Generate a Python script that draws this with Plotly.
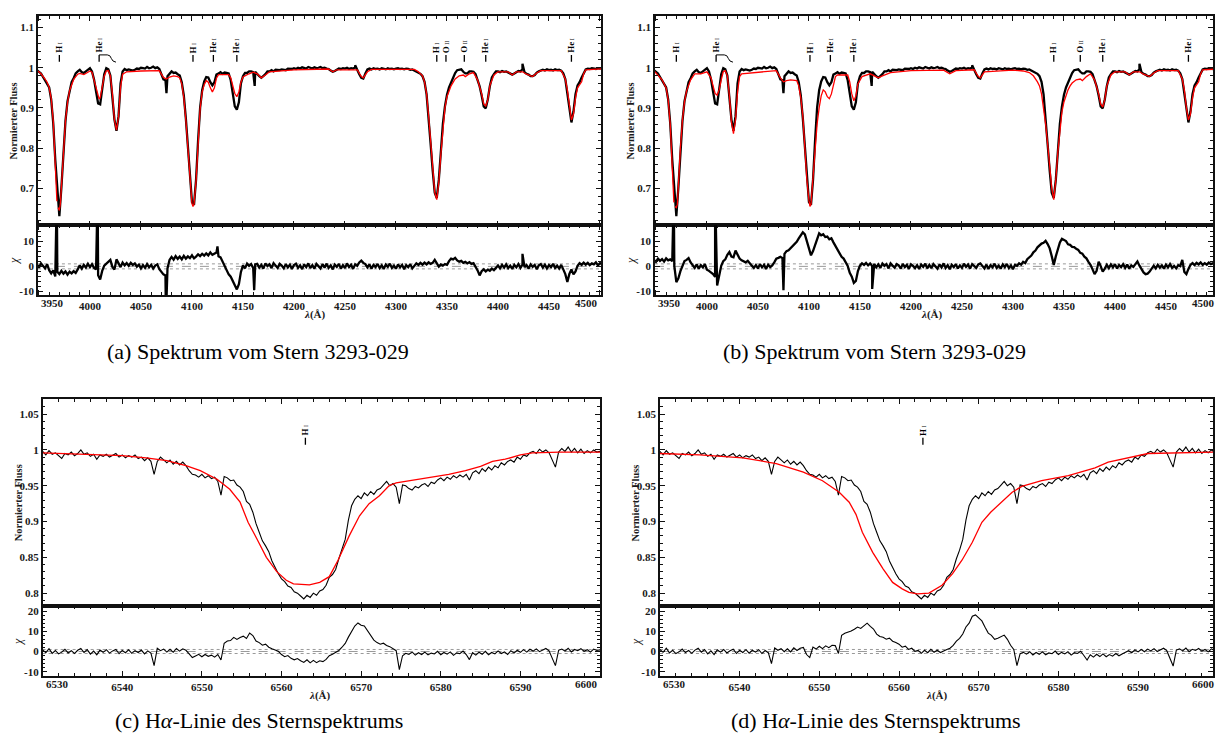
import numpy as np
import plotly.graph_objects as go

# ---------------------------------------------------------------
# Blue spectrum of star 3293-029, sampled every 2 A from 3948 A
# ---------------------------------------------------------------
BLUE_START, BLUE_STEP = 3948.0, 2.0
blue_flux = [
    0.994, 0.989, 0.986, 0.977, 0.969, 0.961, 0.951, 0.921, 0.862, 0.771,
    0.692, 0.631, 0.702, 0.801, 0.868, 0.917, 0.943, 0.964, 0.974, 0.986,
    0.991, 0.995, 0.989, 0.987, 0.991, 0.994, 0.999, 0.991, 0.971, 0.941,
    0.911, 0.909, 0.951, 0.984, 0.999, 0.996, 0.981, 0.934, 0.871, 0.843,
    0.879, 0.961, 0.991, 0.997, 0.994, 0.996, 0.995, 0.993, 0.995, 0.998,
    0.997, 1.000, 0.999, 0.998, 1.002, 0.999, 1.000, 1.003, 0.999, 1.001,
    0.997, 0.986, 0.971, 0.969, 0.979, 0.984, 0.991, 0.987, 0.988, 0.984,
    0.981, 0.964, 0.931, 0.874, 0.801, 0.721, 0.666, 0.659, 0.721, 0.819,
    0.901, 0.944, 0.966, 0.977, 0.976, 0.964, 0.956, 0.964, 0.983, 0.986,
    0.989, 0.985, 0.988, 0.987, 0.986, 0.969, 0.941, 0.904, 0.896, 0.914,
    0.961, 0.979, 0.987, 0.987, 0.991, 0.991, 0.989, 0.990, 0.984, 0.979,
    0.975, 0.979, 0.984, 0.991, 0.991, 0.994, 0.991, 0.995, 0.994, 0.994,
    0.996, 0.995, 0.994, 0.998, 0.997, 0.997, 0.999, 0.997, 1.000, 0.998,
    1.001, 0.999, 0.998, 1.002, 1.000, 0.998, 1.001, 0.999, 1.000, 1.002,
    0.999, 1.000, 0.998, 0.997, 0.993, 0.990, 0.992, 0.995, 0.998, 0.997,
    0.999, 0.998, 1.000, 0.997, 0.999, 0.998, 1.001, 0.994, 0.984, 0.975,
    0.973, 0.986, 0.996, 0.998, 0.996, 0.999, 0.997, 0.998, 0.996, 0.999,
    0.998, 0.996, 0.999, 0.997, 0.998, 0.996, 0.998, 0.999, 0.997, 0.998,
    0.996, 0.998, 0.997, 0.995, 0.996, 0.993, 0.991, 0.989, 0.985, 0.979,
    0.965, 0.934, 0.879, 0.809, 0.744, 0.689, 0.676, 0.721, 0.791, 0.861,
    0.904, 0.933, 0.951, 0.964, 0.979, 0.987, 0.994, 0.995, 0.996, 0.990,
    0.986, 0.986, 0.991, 0.991, 0.990, 0.984, 0.970, 0.954, 0.931, 0.904,
    0.899, 0.921, 0.954, 0.976, 0.984, 0.991, 0.991, 0.989, 0.992, 0.990,
    0.991, 0.988, 0.986, 0.983, 0.986, 0.989, 0.992, 0.991, 0.996, 0.989,
    0.985, 0.983, 0.979, 0.979, 0.982, 0.988, 0.991, 0.993, 0.995, 0.993,
    0.996, 0.994, 0.995, 0.993, 0.996, 0.994, 0.995, 0.993, 0.986, 0.972,
    0.939, 0.896, 0.864, 0.891, 0.934, 0.956, 0.964, 0.976, 0.987, 0.996,
    0.998, 0.997, 0.999, 0.998, 0.997, 0.999, 0.998, 0.999, 0.998,
]
# narrow single-pixel features
blue_spike_wl = [4075.0, 4161.5, 4260.0, 4424.0]
blue_spike_flux = [0.937, 0.955, 1.006, 1.010]

# model spectra (nan = no model in the Ca II H core)
model_a_wl = [
    3949, 3952, 3956, 3958, 3960, 3962, 3964, 3966, 3967, 3967.6, 3968.2, 3968.8,
    3970, 3971, 3972, 3974, 3976, 3978, 3980, 3984, 3988, 3990, 3994, 3998,
    4000, 4002, 4004, 4006, 4008, 4009, 4010, 4012, 4014, 4016, 4018, 4020,
    4022, 4024, 4026, 4028, 4030, 4032, 4036, 4050, 4060, 4068, 4072, 4075,
    4078, 4082, 4086, 4088, 4090, 4092, 4094, 4096, 4098, 4100, 4101, 4102,
    4104, 4106, 4108, 4110, 4112, 4114, 4116, 4118, 4120, 4122, 4124, 4126,
    4136, 4138, 4140, 4142, 4144, 4146, 4148, 4150, 4156, 4160, 4164, 4168,
    4172, 4176, 4200, 4234, 4238, 4242, 4262, 4266, 4268, 4272, 4276, 4318,
    4322, 4326, 4328, 4330, 4332, 4334, 4336, 4338, 4340, 4342, 4344, 4346,
    4348, 4350, 4354, 4358, 4362, 4366, 4368, 4372, 4376, 4380, 4384, 4386,
    4388, 4390, 4392, 4396, 4400, 4410, 4414, 4418, 4424, 4428, 4434, 4438,
    4442, 4462, 4466, 4468, 4470, 4472, 4474, 4476, 4478, 4482, 4484, 4486,
    4501,
]
model_a_flux = [
    0.992, 0.985, 0.972, 0.964, 0.951, 0.924, 0.868, 0.768, 0.700, 0.668, np.nan, 0.652,
    0.645, 0.662, 0.700, 0.798, 0.868, 0.913, 0.943, 0.971, 0.984, 0.986, 0.983, 0.989,
    0.992, 0.989, 0.970, 0.946, 0.926, 0.922, 0.925, 0.950, 0.979, 0.992, 0.993, 0.980,
    0.935, 0.870, 0.845, 0.878, 0.952, 0.984, 0.990, 0.992, 0.993, 0.993, 0.976, 0.972,
    0.977, 0.980, 0.978, 0.975, 0.960, 0.926, 0.870, 0.792, 0.712, 0.662, 0.655, 0.660,
    0.718, 0.818, 0.898, 0.940, 0.958, 0.968, 0.964, 0.950, 0.940, 0.950, 0.974, 0.983,
    0.983, 0.975, 0.956, 0.936, 0.928, 0.940, 0.964, 0.977, 0.985, 0.989, 0.985, 0.975,
    0.982, 0.990, 0.995, 0.997, 0.990, 0.995, 0.995, 0.978, 0.975, 0.990, 0.996, 0.996,
    0.990, 0.980, 0.965, 0.935, 0.880, 0.810, 0.745, 0.690, 0.672, 0.715, 0.785, 0.855,
    0.900, 0.928, 0.955, 0.972, 0.980, 0.982, 0.978, 0.985, 0.988, 0.970, 0.935, 0.910,
    0.905, 0.920, 0.955, 0.982, 0.990, 0.990, 0.982, 0.990, 0.990, 0.984, 0.978, 0.987,
    0.993, 0.993, 0.972, 0.945, 0.900, 0.870, 0.885, 0.925, 0.950, 0.965, 0.985, 0.995,
    0.997,
]
model_b_wl = [
    3949, 3956, 3960, 3962, 3964, 3966, 3967, 3967.6, 3968.2, 3968.8, 3970, 3971,
    3972, 3974, 3976, 3978, 3980, 3984, 3988, 3994, 4000, 4004, 4006, 4008,
    4010, 4012, 4014, 4016, 4018, 4020, 4022, 4024, 4026, 4028, 4030, 4032,
    4034, 4050, 4060, 4068, 4072, 4075, 4078, 4082, 4088, 4090, 4092, 4094,
    4096, 4098, 4100, 4101, 4102, 4104, 4106, 4108, 4110, 4112, 4114, 4116,
    4118, 4120, 4122, 4124, 4126, 4128, 4138, 4140, 4142, 4144, 4146, 4148,
    4152, 4160, 4168, 4172, 4180, 4200, 4232, 4238, 4244, 4262, 4266, 4268,
    4272, 4300, 4310, 4316, 4320, 4324, 4326, 4328, 4330, 4332, 4334, 4336,
    4338, 4340, 4342, 4344, 4346, 4348, 4350, 4352, 4354, 4356, 4358, 4362,
    4366, 4368, 4372, 4376, 4380, 4384, 4386, 4388, 4390, 4392, 4396, 4400,
    4410, 4414, 4418, 4424, 4428, 4434, 4438, 4442, 4462, 4466, 4468, 4470,
    4472, 4474, 4476, 4478, 4482, 4484, 4486, 4501,
]
model_b_flux = [
    0.990, 0.970, 0.950, 0.920, 0.860, 0.760, 0.690, 0.665, np.nan, 0.655, 0.652, 0.660,
    0.710, 0.800, 0.870, 0.915, 0.942, 0.970, 0.985, 0.985, 0.990, 0.975, 0.955, 0.936,
    0.932, 0.945, 0.970, 0.990, 0.993, 0.980, 0.930, 0.865, 0.836, 0.870, 0.940, 0.978,
    0.985, 0.988, 0.990, 0.993, 0.975, 0.965, 0.968, 0.970, 0.968, 0.955, 0.925, 0.880,
    0.800, 0.720, 0.670, 0.655, 0.660, 0.735, 0.810, 0.860, 0.900, 0.930, 0.945, 0.940,
    0.928, 0.923, 0.935, 0.960, 0.978, 0.982, 0.982, 0.965, 0.935, 0.918, 0.930, 0.960,
    0.978, 0.985, 0.975, 0.980, 0.988, 0.993, 0.994, 0.985, 0.993, 0.995, 0.978, 0.975,
    0.990, 0.994, 0.992, 0.988, 0.980, 0.965, 0.955, 0.935, 0.900, 0.860, 0.810, 0.750,
    0.700, 0.672, 0.720, 0.790, 0.850, 0.890, 0.915, 0.932, 0.945, 0.955, 0.962, 0.970,
    0.972, 0.968, 0.978, 0.985, 0.970, 0.935, 0.910, 0.902, 0.920, 0.955, 0.982, 0.990,
    0.990, 0.982, 0.990, 0.990, 0.984, 0.978, 0.987, 0.993, 0.993, 0.972, 0.945, 0.900,
    0.870, 0.885, 0.925, 0.950, 0.965, 0.985, 0.995, 0.997,
]

# normalised residuals chi on the 2 A grid
chi_a = [
    0.8, -0.5, 1.2, 0.3, -0.8, 0.9, -1.5, -2.8, -1.6, -4.0,
    -2.2, -3.1, -1.8, -2.9, -2.0, -3.3, -2.1, -2.8, -1.9, -2.6,
    -1.2, 0.4, -0.9, 0.6, -0.5, 1.0, -0.3, 0.9, -0.6, -1.2,
    -3.5, -5.2, -1.8, 0.3, 1.2, 1.8, 2.6, -0.2, -1.3, 2.8,
    0.9, -0.3, 1.5, 0.4, 1.3, 0.2, 1.4, 0.6, 1.2, -0.1,
    0.7, -0.8, 0.5, -0.6, 0.9, -0.4, 0.6, -0.9, 0.3, 0.8,
    -1.1, -2.4, -3.2, -3.6, -0.8, 2.6, 3.8, 2.7, 4.1, 3.0,
    3.9, 2.8, 4.2, 3.1, 4.0, 3.3, 4.4, 3.2, 3.9, 4.8,
    4.1, 5.0, 4.3, 5.2, 4.4, 5.6, 4.6, 5.1, 5.5, 4.0,
    3.6, 2.0, 0.2, -1.8, -3.2, -4.1, -5.6, -7.6, -9.2, -7.1,
    -2.2, 0.4, -0.8, 1.1, 0.2, 0.9, -0.6, 0.8, 1.0, -0.5,
    0.6, -0.9, 1.2, 0.1, 0.8, -0.7, 1.3, 0.2, -0.6, 1.0,
    0.3, -0.8, 0.9, -0.4, 0.7, -1.0, 0.5, 1.1, -0.6, 0.4,
    -1.1, 0.8, -0.3, 1.2, -0.7, 0.5, -0.9, 1.0, 0.1, -0.8,
    0.9, -0.5, 1.1, -0.6, 0.4, -1.2, 0.7, -0.2, 1.0, -0.9,
    0.5, -0.7, 1.2, -0.3, 0.6, -1.0, 0.8, 0.2, 1.6, 2.3,
    1.4, 0.9, -0.4, 0.8, -0.9, 0.6, -0.3, 1.0, -0.7, 0.4,
    -1.0, 0.7, -0.2, 1.1, -0.6, 0.3, -0.9, 0.8, -0.4, 0.6,
    -1.1, 0.5, -0.3, 0.9, -0.8, 0.4, 1.2, 0.6, 1.4, 0.7,
    1.5, 0.8, 1.6, 1.0, 1.4, 2.6, 1.2, -0.1, 0.8, 0.3,
    0.9, 0.6, 2.1, 3.1, 2.8, 3.4, 2.4, 1.9, 2.2, 1.4,
    1.8, 1.2, 1.7, 1.0, 1.3, -0.1, -1.6, -3.6, -1.9, -1.2,
    -2.0, -1.3, -1.8, -0.9, -1.5, -0.6, 0.4, -0.8, 0.6, -0.5,
    0.8, -0.7, 0.3, -1.0, 0.6, -0.4, 0.9, -0.6, 0.7, -0.3,
    0.5, -0.9, 0.8, -0.2, 0.6, -1.1, 0.4, 0.9, -0.5, 0.7,
    -0.8, 0.5, -0.3, 1.0, -0.6, 0.3, -0.9, 0.6, -1.2, -3.1,
    -6.2, -3.0, -1.2, -3.2, -2.0, 0.2, 1.3, 0.6, 1.5, 0.7,
    1.4, 0.5, 1.2, 0.8, 1.6, 0.4, 1.3, 0.9, 1.1,
]
chi_a_spike_wl = [3967.5, 4007.5, 4074.5, 4125.0, 4161.0, 4424.0]
chi_a_spike = [30.0, 30.0, -20.0, 8.0, -9.5, 5.0]

chi_b = [
    2.6, 1.8, 3.1, 2.2, 2.9, 1.9, 3.2, 2.4, 2.8, 2.1,
    0.2, -6.3, -4.8, -1.9, 0.3, 2.1, 2.6, 3.3, 1.6, 0.4,
    -0.6, 0.8, -0.9, 0.5, -0.4, 0.9, -1.3, -1.8, -2.4, -3.1,
    -4.2, -7.6, -4.0, 0.2, 2.1, 2.8, 4.6, 5.7, 3.9, 3.6,
    6.3, 4.9, 3.1, 2.4, 2.1, 1.6, 2.2, 1.0, 0.3, -0.6,
    0.5, -0.8, 0.9, -0.4, 0.6, -1.0, 0.7, -0.3, 0.4, 1.6,
    3.1, 3.4, 3.8, 3.3, 5.0, 6.1, 6.4, 7.2, 7.9, 9.1,
    9.8, 11.2, 12.3, 13.6, 12.8, 10.1, 6.9, 4.4, 6.1, 8.2,
    11.1, 13.2, 12.4, 12.8, 11.7, 11.9, 10.8, 11.2, 9.6, 8.1,
    6.2, 5.3, 3.8, 3.1, 1.9, 0.2, -2.6, -4.1, -6.6, -5.8,
    -1.9, 0.3, 1.2, 0.6, 1.4, 0.4, 1.2, 0.1, 1.0, -0.4,
    0.8, -0.6, 1.1, 0.2, 0.9, -0.8, 1.2, 0.3, -0.5, 0.9,
    0.4, -0.9, 1.0, -0.3, 0.6, -1.0, 0.8, 0.2, -0.7, 0.5,
    -1.0, 0.7, -0.2, 1.1, -0.8, 0.6, -0.7, 0.9, 0.1, -0.9,
    0.8, -0.4, 1.2, -0.6, 0.5, -1.1, 0.6, -0.3, 0.9, -0.8,
    0.4, -0.6, 1.1, -0.2, 0.7, -0.9, 0.9, 0.1, -0.6, 0.8,
    1.2, 0.2, -0.8, 0.7, -1.0, 0.5, -0.4, 1.1, -0.6, 0.3,
    -0.9, 0.8, -0.3, 1.0, -0.7, 0.4, -1.1, 0.6, 0.2, 1.2,
    0.7, 1.8, 1.3, 2.9, 3.6, 4.3, 5.6, 6.3, 7.6, 8.4,
    9.1, 9.4, 10.2, 8.9, 7.2, 4.1, 0.6, 4.0, 7.1, 9.6,
    11.0, 10.4, 10.1, 8.8, 8.6, 7.8, 7.7, 7.0, 6.6, 5.4,
    5.1, 3.9, 3.2, 1.8, 0.6, -1.2, -3.1, -1.8, 1.9, 0.1,
    -2.1, -0.9, 0.6, -0.7, 0.8, -0.4, 0.9, -0.8, 0.5, -0.3,
    0.9, -0.6, 0.7, -0.9, 0.4, -0.2, 0.8, 2.0, 0.3, -1.1,
    -2.4, -3.1, -2.9, -2.1, -0.6, 0.3, -0.8, 0.6, -0.5, 0.4,
    -0.9, 0.7, -0.4, 0.9, -0.6, 0.2, -0.8, 0.5, 0.1, 2.6,
    -2.2, -3.1, -1.0, 0.6, 1.3, 0.5, 1.4, 0.8, 1.6, 0.6,
    1.3, 0.7, 1.5, 0.9, 1.2, 0.5, 1.4, 0.8, 1.1,
]
chi_b_spike_wl = [3967.5, 4008.0, 4075.0, 4162.0]
chi_b_spike = [30.0, 30.0, -9.5, -9.0]

# line identifications (wavelength, element, ionisation stage)
ids_a_wl = [3970, 4009, 4101, 4121, 4144, 4340, 4349, 4367, 4388, 4472]
ids_a_el = ["H", "He", "H", "He", "He", "H", "O", "O", "He", "He"]
ids_a_ion = ["I", "I", "I", "I", "I", "I", "II", "II", "I", "I"]
ids_b_wl = [3970, 4009, 4101, 4121, 4144, 4340, 4366, 4388, 4472]
ids_b_el = ["H", "He", "H", "He", "He", "H", "O", "He", "He"]
ids_b_ion = ["I", "I", "I", "I", "I", "I", "II", "I", "I"]

# ---------------------------------------------------------------
# H-alpha region, sampled every 0.4 A from 6530 A
# ---------------------------------------------------------------
RED_START, RED_STEP = 6530.0, 0.4
red_flux = [
    0.998, 0.993, 0.999, 0.994, 0.996, 0.992, 0.988, 0.995, 0.993, 0.997,
    0.992, 0.995, 1.000, 0.994, 0.996, 0.991, 0.994, 0.987, 0.993, 0.991,
    0.994, 0.990, 0.993, 0.995, 0.990, 0.993, 0.989, 0.992, 0.990, 0.993,
    0.988, 0.990, 0.985, 0.989, 0.984, 0.966, 0.984, 0.990, 0.986, 0.982,
    0.986, 0.980, 0.984, 0.979, 0.983, 0.978, 0.971, 0.966, 0.965, 0.962,
    0.966, 0.961, 0.964, 0.960, 0.962, 0.956, 0.937, 0.963, 0.961, 0.957,
    0.958, 0.951, 0.948, 0.942, 0.928, 0.924, 0.913, 0.897, 0.885, 0.873,
    0.866, 0.858, 0.845, 0.835, 0.827, 0.820, 0.816, 0.810, 0.808, 0.802,
    0.800, 0.796, 0.792, 0.797, 0.794, 0.800, 0.797, 0.803, 0.805, 0.811,
    0.822, 0.826, 0.833, 0.848, 0.860, 0.875, 0.902, 0.922, 0.931, 0.936,
    0.932, 0.940, 0.936, 0.942, 0.938, 0.944, 0.946, 0.951, 0.956, 0.950,
    0.953, 0.948, 0.925, 0.951, 0.950, 0.946, 0.944, 0.949, 0.947, 0.951,
    0.953, 0.949, 0.955, 0.953, 0.958, 0.961, 0.957, 0.962, 0.959, 0.964,
    0.961, 0.965, 0.962, 0.966, 0.958, 0.968, 0.971, 0.967, 0.974, 0.970,
    0.976, 0.972, 0.978, 0.975, 0.982, 0.979, 0.984, 0.986, 0.983, 0.990,
    0.987, 0.993, 0.991, 0.996, 0.998, 0.995, 1.001, 0.997, 1.000, 0.996,
    0.985, 0.976, 0.997, 1.002, 0.998, 1.004, 0.997, 1.002, 0.996, 1.001,
    0.995, 0.999, 0.996, 1.000, 0.997, 0.998,
]
model_c_wl = [
    6530, 6535, 6540, 6543, 6545.6, 6548, 6549.8, 6551.9, 6553.5, 6554.8,
    6555.8, 6556.9, 6558.1, 6559.4, 6560.6, 6561.5, 6562.3, 6563.5, 6564.8, 6566,
    6567.1, 6568.5, 6569.8, 6571, 6572.3, 6573.5, 6574.4, 6576, 6579, 6581,
    6583.1, 6585, 6586.5, 6588.1, 6590, 6591.5, 6595, 6600,
]
model_c_flux = [
    0.996, 0.994, 0.992, 0.989, 0.985, 0.978, 0.971, 0.959, 0.945, 0.927,
    0.899, 0.876, 0.850, 0.830, 0.818, 0.813, 0.812, 0.8115, 0.815, 0.823,
    0.846, 0.880, 0.908, 0.925, 0.936, 0.950, 0.954, 0.957, 0.962, 0.966,
    0.971, 0.977, 0.984, 0.987, 0.993, 0.996, 0.997, 0.997,
]
model_d_wl = [
    6530, 6535, 6540.4, 6544.6, 6548, 6550.4, 6552.5, 6553.75, 6554.6, 6555.4,
    6556.7, 6558, 6559.2, 6560.4, 6561.25, 6562.3, 6563.75, 6565.4, 6566.7, 6567.9,
    6569.2, 6570.4, 6571.5, 6572.9, 6574.2, 6575.4, 6577.9, 6581.25, 6584.6, 6586.25,
    6588.75, 6591.25, 6600,
]
model_d_flux = [
    0.995, 0.993, 0.989, 0.981, 0.969, 0.957, 0.941, 0.927, 0.910, 0.885,
    0.857, 0.834, 0.815, 0.806, 0.801, 0.799, 0.800, 0.811, 0.827, 0.846,
    0.871, 0.899, 0.913, 0.927, 0.941, 0.949, 0.957, 0.964, 0.975, 0.983,
    0.989, 0.995, 0.997,
]
chi_c = [
    0.8, -0.6, 1.4, -0.9, 0.5, -1.2, -0.3, 1.1, -0.7, 0.4,
    -1.0, 0.6, 1.5, -0.5, 0.9, -1.3, 0.2, -1.6, 0.7, -0.4,
    0.9, -0.8, 0.3, 1.0, -1.1, 0.5, -0.6, 0.8, -0.9, 0.4,
    -0.5, 0.7, -1.2, 0.3, -0.8, -7.0, 1.6, 0.4, 1.2, -0.3,
    1.1, -0.4, 1.5, 0.2, 1.3, 0.6, -1.2, -3.0, -2.2, -1.4,
    -2.6, -1.5, -2.4, -1.8, -2.8, -1.5, -4.2, 4.1, 5.2, 5.4,
    7.0, 6.0, 6.9, 7.6, 6.4, 9.1, 7.9, 5.2, 4.4, 3.1,
    3.6, 2.1, 1.4, 0.6, 0.1, -1.5, -2.6, -2.0, -3.4, -4.1,
    -3.5, -4.6, -5.4, -4.1, -5.6, -4.4, -5.5, -4.6, -5.0, -3.9,
    -2.1, -1.4, -0.6, 0.5, 2.1, 4.0, 7.1, 10.2, 12.6, 14.1,
    13.0, 12.6, 10.1, 8.0, 5.6, 4.4, 3.6, 4.1, 3.0, 2.4,
    1.6, 0.4, -9.0, -2.1, -0.9, -1.4, -0.2, -1.8, -0.6, -1.5,
    -0.3, -1.7, -0.8, -1.2, 0.1, -1.6, -0.5, -1.3, -0.2, -1.9,
    -0.7, -1.1, 0.2, -1.5, -4.0, -0.6, -1.8, -0.4, -1.4, 0.1,
    -1.6, -0.5, -1.2, 0.3, -1.0, -0.2, -1.5, 0.4, -0.8, 0.6,
    -0.4, 0.9, -0.3, 1.1, 0.2, 1.3, -0.1, 0.8, 1.5, 0.3,
    -3.0, -7.0, 0.6, 1.2, 0.2, 1.6, -0.2, 1.0, 0.4, 1.4,
    0.1, 0.9, -0.3, 1.2, 0.5, 0.8,
]
chi_d = [
    1.0, -0.4, 1.6, -0.7, 0.6, -1.0, -0.2, 1.2, -0.5, 0.5,
    -0.9, 0.7, 1.6, -0.3, 1.0, -1.2, 0.3, -1.5, 0.8, -0.3,
    1.0, -0.7, 0.4, 1.1, -1.0, 0.6, -0.5, 0.9, -0.8, 0.6,
    -0.3, 0.9, -1.0, 0.5, -0.6, -6.0, 1.8, 0.6, 1.4, -0.1,
    1.3, -0.2, 1.8, 0.5, 1.6, 2.0, -1.5, -3.0, 2.2, 1.2,
    2.6, 1.4, 2.8, 1.9, 3.1, 2.9, -1.0, 8.0, 9.0, 9.4,
    10.1, 11.0, 12.1, 11.4, 12.6, 14.0, 12.4, 11.1, 8.6, 7.4,
    7.0, 6.1, 6.6, 5.1, 4.4, 3.6, 2.1, 2.6, 1.0, 1.6,
    0.1, 0.6, -0.9, 0.6, -0.6, 1.1, -0.4, 0.6, -0.5, 0.4,
    1.0, 1.6, 3.0, 5.1, 6.5, 8.6, 12.1, 14.0, 17.4, 18.1,
    16.6, 15.1, 12.0, 9.1, 8.0, 6.0, 6.6, 7.5, 8.1, 6.0,
    3.1, 1.0, -7.0, -1.1, -0.4, -1.3, -0.1, -1.7, -0.5, -1.4,
    -0.2, -1.6, -0.7, -1.1, 0.2, -1.5, -0.4, -1.2, -0.1, -1.8,
    -0.6, -1.0, 0.1, -2.0, -4.2, -1.6, -2.8, -1.4, -2.5, -1.2,
    -2.6, -1.5, -2.3, -1.0, -2.1, -1.2, -0.4, 0.4, -0.6, 0.8,
    -0.2, 1.0, -0.1, 1.2, 0.3, 1.4, 0.0, 0.9, 1.6, 0.4,
    -3.0, -7.2, 0.7, 1.3, 0.3, 1.7, -0.1, 1.1, 0.5, 1.5,
    0.2, 1.0, -0.2, 1.3, 0.6, 0.9,
]
ids_red_wl = [6563]
ids_red_el = ["H"]
ids_red_ion = ["I"]

captions = [
    "(a) Spektrum vom Stern 3293-029",
    "(b) Spektrum vom Stern 3293-029",
    "(c) H<i>α</i>-Linie des Sternspektrums",
    "(d) H<i>α</i>-Linie des Sternspektrums",
]

# ---------------------------------------------------------------
W, H = 1215, 751
SERIF = "Liberation Serif, Tinos, Times New Roman, Times, DejaVu Serif, serif"
INK = "#1a1a1a"


def px(x):
    return x / W


def py(y):
    return 1 - y / H


def grid(start, step, values):
    return start + step * np.arange(len(values))


def merged(wl, vals, extra_wl, extra_vals):
    x = np.concatenate([np.asarray(wl, float), np.asarray(extra_wl, float)])
    y = np.concatenate([np.asarray(vals, float), np.asarray(extra_vals, float)])
    order = np.argsort(x, kind="stable")
    return x[order], y[order]


blue_wl = grid(BLUE_START, BLUE_STEP, blue_flux)
red_wl = grid(RED_START, RED_STEP, red_flux)
obs_blue_x, obs_blue_y = merged(blue_wl, blue_flux, blue_spike_wl, blue_spike_flux)
chi_a_x, chi_a_y = merged(grid(BLUE_START, BLUE_STEP, chi_a), chi_a, chi_a_spike_wl, chi_a_spike)
chi_b_x, chi_b_y = merged(grid(BLUE_START, BLUE_STEP, chi_b), chi_b, chi_b_spike_wl, chi_b_spike)

# panel geometry in pixels: frame left/right, main top/bottom, residual bottom
panels = [
    dict(x0=38, x1=602, top=14, mid=224.5, bot=294.5, xr=[3949, 4501], kind="blue",
         obs=(obs_blue_x, obs_blue_y), model=(model_a_wl, model_a_flux), chi=(chi_a_x, chi_a_y),
         ids=(ids_a_wl, ids_a_el, ids_a_ion), cap=captions[0], capx=258, capy=351),
    dict(x0=656, x1=1215, top=14, mid=224.5, bot=294.5, xr=[3949, 4496.1], kind="blue",
         obs=(obs_blue_x, obs_blue_y), model=(model_b_wl, model_b_flux), chi=(chi_b_x, chi_b_y),
         ids=(ids_b_wl, ids_b_el, ids_b_ion), cap=captions[1], capx=876, capy=351),
    dict(x0=42.7, x1=601, top=399, mid=607.7, bot=677.7, xr=[6530, 6600], kind="red",
         obs=(red_wl, red_flux), model=(model_c_wl, model_c_flux), chi=(grid(RED_START, RED_STEP, chi_c), chi_c),
         ids=(ids_red_wl, ids_red_el, ids_red_ion), cap=captions[2], capx=259, capy=722),
    dict(x0=661, x1=1215, top=399, mid=607.7, bot=677.7, xr=[6530, 6599.4], kind="red",
         obs=(red_wl, red_flux), model=(model_d_wl, model_d_flux), chi=(grid(RED_START, RED_STEP, chi_d), chi_d),
         ids=(ids_red_wl, ids_red_el, ids_red_ion), cap=captions[3], capx=877, capy=722),
]

fig = go.Figure()
layout = dict(width=W, height=H, margin=dict(l=0, r=0, t=0, b=0),
              paper_bgcolor="white", plot_bgcolor="white", showlegend=False,
              font=dict(family=SERIF))
annotations = []
shapes = []

tickfont = dict(family=SERIF, size=11, color=INK, weight="bold")
frame = dict(showline=True, linecolor="#111", linewidth=1.5, mirror="ticks",
             ticks="inside", ticklen=5, tickwidth=1.1, tickcolor="#111",
             showgrid=False, zeroline=False, tickfont=tickfont)


def note(**kw):
    base = dict(showarrow=False, xanchor="center", yanchor="middle")
    base.update(kw)
    annotations.append(base)


for i, p in enumerate(panels):
    n_main, n_res = 2 * i + 1, 2 * i + 2
    xm, ym = f"x{n_main}", f"y{n_main}"
    xs, ys = f"x{n_res}", f"y{n_res}"
    blue = p["kind"] == "blue"
    if blue:
        xt = list(range(3950, 4501, 50))
        xminor = dict(dtick=10, tick0=3950, ticks="inside", ticklen=3, tickcolor="#111")
        ymain = dict(range=[0.608, 1.129], dtick=0.1, tick0=0,
                     minor=dict(dtick=0.02, tick0=0, ticks="inside", ticklen=3, tickcolor="#111"))
        yres_vals = [-10, 0, 10]
        yres_rng = [-11.4, 16.4]
        lbl_y, dash_len = 1.015, 0.017
        obs_w = 2.3
        full_w = 564
    else:
        xt = list(range(6530, 6601, 10))
        xminor = dict(dtick=2, tick0=6530, ticks="inside", ticklen=3, tickcolor="#111")
        ymain = dict(range=[0.7814, 1.0713], dtick=0.05, tick0=0,
                     minor=dict(dtick=0.01, tick0=0, ticks="inside", ticklen=3, tickcolor="#111"))
        yres_vals = [-10, 0, 10, 20]
        yres_rng = [-12.16, 22.26]
        lbl_y, dash_len = 1.0074, 0.0097
        obs_w = 1.1
        full_w = 559
    edge = {xt[0], xt[-1]}
    xtext = ["" if v in edge else str(v) for v in xt]
    xdom = [px(p["x0"]), min(1.0, px(p["x1"]))]

    layout[f"xaxis{n_main}"] = dict(frame, domain=xdom, range=p["xr"], anchor=ym,
                                    tickmode="array", tickvals=xt, showticklabels=False,
                                    minor=xminor)
    layout[f"yaxis{n_main}"] = dict(frame, domain=[py(p["mid"]), py(p["top"])], anchor=xm, **ymain)
    layout[f"xaxis{n_res}"] = dict(frame, domain=xdom, range=p["xr"], anchor=ys,
                                   tickmode="array", tickvals=xt, ticktext=xtext,
                                   minor=xminor, matches=xm)
    layout[f"yaxis{n_res}"] = dict(frame, domain=[py(p["bot"]), py(p["mid"])], anchor=xs,
                                   range=yres_rng, tickmode="array", tickvals=yres_vals,
                                   ticktext=[str(v) for v in yres_vals],
                                   minor=dict(dtick=2, tick0=0, ticks="inside", ticklen=3, tickcolor="#111"))

    # spectra
    ox, oy = p["obs"]
    fig.add_trace(go.Scatter(x=ox, y=oy, mode="lines", line=dict(color="black", width=obs_w),
                             xaxis=xm, yaxis=ym, hoverinfo="skip"))
    mx, my = p["model"]
    fig.add_trace(go.Scatter(x=mx, y=my, mode="lines", line=dict(color="#ff0000", width=1.3),
                             xaxis=xm, yaxis=ym, connectgaps=False, hoverinfo="skip"))
    cx, cy = p["chi"]
    fig.add_trace(go.Scatter(x=cx, y=cy, mode="lines", line=dict(color="black", width=obs_w),
                             xaxis=xs, yaxis=ys, hoverinfo="skip"))

    # reference levels in the residual panel
    for lvl, dash in ((0, "dash"), (1, "dot"), (-1, "dot")):
        shapes.append(dict(type="line", xref=f"{xs} domain", yref=ys, x0=0, x1=1, y0=lvl, y1=lvl,
                           line=dict(color="#9a9a9a", width=1, dash=dash), layer="below"))

    # line identifications: short marker plus rotated ion label
    for wl, el, ion in zip(*p["ids"]):
        shapes.append(dict(type="line", xref=xm, yref=ym, x0=wl, x1=wl,
                           y0=lbl_y, y1=lbl_y + dash_len, line=dict(color="black", width=1.3)))
        note(x=wl, y=lbl_y + dash_len, xref=xm, yref=ym, yanchor="bottom", textangle=-90,
             text=f"<b>{el}</b><span style='font-size:6px'> {ion}</span>",
             font=dict(family=SERIF, size=9, color="black"))
    if blue:
        shapes.append(dict(type="path", xref=xm, yref=ym,
                           path="M 4009,1.032 L 4017,1.032 Q 4020,1.032 4021,1.023 Q 4022,1.015 4025.5,1.014",
                           line=dict(color="black", width=1)))

    # edge tick labels kept inside the frame
    ylab = p["bot"] + 8
    note(x=px(p["x0"] + 1), y=py(ylab), xref="paper", yref="paper", xanchor="left",
         text=str(xt[0]), font=tickfont)
    note(x=(p["x0"] + full_w - 1) / W, y=py(ylab), xref="paper", yref="paper", xanchor="right",
         text=str(xt[-1]), font=tickfont)

    # axis titles
    note(x=px(p["x0"] - 24), y=py((p["top"] + p["mid"]) / 2), xref="paper", yref="paper",
         textangle=-90, text="<b>Normierter Fluss</b>",
         font=dict(family=SERIF, size=10.5, color=INK))
    note(x=px(p["x0"] - 24), y=py((p["mid"] + p["bot"]) / 2), xref="paper", yref="paper",
         textangle=-90, text="<i>χ</i>", font=dict(family=SERIF, size=12, color=INK))
    note(x=px(p["x0"] + 277), y=py(p["bot"] + 20), xref="paper", yref="paper",
         text="<b><i>λ</i>(Å)</b>", font=dict(family=SERIF, size=11, color=INK))
    # caption
    note(x=px(p["capx"]), y=py(p["capy"]), xref="paper", yref="paper",
         text=p["cap"], font=dict(family=SERIF, size=22, color="black"))

layout["annotations"] = annotations
layout["shapes"] = shapes
fig.update_layout(**layout)
fig.write_html("out.html")
